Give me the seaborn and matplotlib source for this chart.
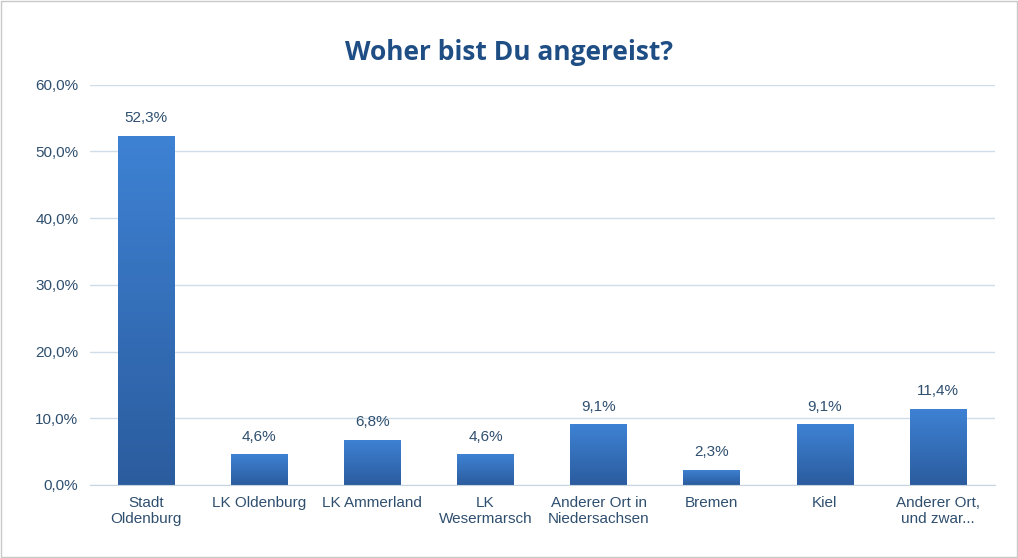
import numpy as np
import pandas as pd
import matplotlib
matplotlib.use("Agg")
import matplotlib.pyplot as plt
import seaborn as sns
from matplotlib.colors import LinearSegmentedColormap
from matplotlib.ticker import FuncFormatter

# data
categories = ["Stadt\nOldenburg", "LK Oldenburg", "LK Ammerland", "LK\nWesermarsch",
              "Anderer Ort in\nNiedersachsen", "Bremen", "Kiel", "Anderer Ort,\nund zwar..."]
values = [52.3, 4.6, 6.8, 4.6, 9.1, 2.3, 9.1, 11.4]

df = pd.DataFrame({"ort": categories, "anteil": values})
sns.set_style("white")

fig = plt.figure(figsize=(10.18, 5.58), dpi=100)
ax = fig.add_axes([0.088, 0.131, 0.889, 0.717])
sns.barplot(data=df, x="ort", y="anteil", width=0.5, color="#3a78c8", ax=ax)

# vertical gradient on each bar
cmap = LinearSegmentedColormap.from_list("g", ["#2b5c9e", "#3e82d4"])
grad = np.linspace(0, 1, 256).reshape(-1, 1)
for p in ax.patches:
    x0, y0, w, h = p.get_x(), p.get_y(), p.get_width(), p.get_height()
    im = ax.imshow(grad, cmap=cmap, origin="lower", aspect="auto",
                   extent=[x0, x0 + w, y0, y0 + h], zorder=2)
    im.set_clip_path(p)
    p.set_facecolor("none")
    ax.text(x0 + w / 2, h + 1.6, f"{h:.1f}%".replace(".", ","), ha="center", va="bottom",
            fontsize=11, color="#2f4f6f", family="Liberation Sans")

ax.set_xlim(-0.5, len(categories) - 0.5)
ax.set_ylim(0, 60)
ax.set_yticks(np.arange(0, 61, 10))
ax.yaxis.set_major_formatter(FuncFormatter(lambda v, _: f"{v:.1f}%".replace(".", ",")))
ax.grid(axis="y", color="#d0dce8", linewidth=1)
ax.set_axisbelow(True)
for s in ["top", "right", "left"]:
    ax.spines[s].set_visible(False)
ax.spines["bottom"].set_color("#c8d4e0")
ax.set_xlabel("")
ax.set_ylabel("")
ax.tick_params(axis="both", length=0, labelsize=11, labelcolor="#2f4f6f", pad=8)
for t in ax.get_xticklabels() + ax.get_yticklabels():
    t.set_family("Liberation Sans")

fig.suptitle("Woher bist Du angereist?", y=0.93, fontsize=19, fontweight="bold",
             color="#1f4e85", family="Open Sans")
fig.patches.append(plt.Rectangle((0.001, 0.001), 0.998, 0.998, transform=fig.transFigure,
                                 fill=False, edgecolor="#c8c8c8", linewidth=1))
fig.savefig("out.png", dpi=100)
